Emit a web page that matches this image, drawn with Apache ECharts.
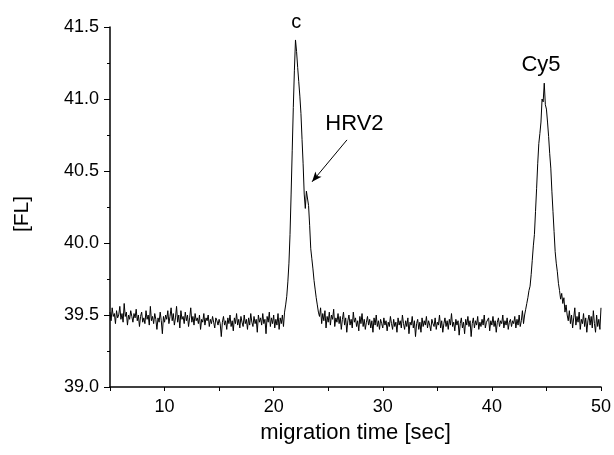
<!DOCTYPE html>
<html><head><meta charset="utf-8">
<script src="https://cdn.jsdelivr.net/npm/echarts@6/dist/echarts.min.js"></script>
<style>html,body{margin:0;padding:0;background:#fff}#c{width:614px;height:455px}</style>
</head><body><div id="c"></div>
<script>
// sampling of the detector trace
const startTime = 5.0;   // sec
const sampleStep = 0.1;  // sec
// fluorescence signal [FL], one value per sample from 5.0 s to 50.0 s
const baselineA = [
39.52,39.46,39.55,39.49,39.51,39.44,39.53,39.48,39.50,39.56,
39.47,39.51,39.45,39.58,39.49,39.52,39.43,39.50,39.47,39.53,
39.49,39.45,39.51,39.48,39.54,39.46,39.50,39.42,39.49,39.52,
39.45,39.48,39.44,39.53,39.47,39.50,39.43,39.56,39.46,39.49,
39.44,39.51,39.47,39.40,39.48,39.45,39.52,39.46,39.37,39.49,
39.45,39.50,39.47,39.53,39.44,39.49,39.55,39.46,39.51,39.43,
39.48,39.56,39.45,39.50,39.41,39.53,39.47,39.49,39.44,39.52,
39.46,39.50,39.42,39.48,39.55,39.45,39.49,39.43,39.51,39.46,
39.48,39.44,39.50,39.40,39.47,39.45,39.51,39.43,39.48,39.46,
39.50,39.42,39.47,39.44,39.49,39.45,39.41,39.48,39.46,39.43,
39.47,39.44,39.35,39.45,39.49,39.43,39.46,39.40,39.48,39.44,
39.50,39.42,39.46,39.39,39.48,39.44,39.51,39.43,39.47,39.41,
39.49,39.45,39.42,39.50,39.44,39.47,39.40,39.48,39.43,39.51,
39.45,39.42,39.49,39.44,39.47,39.38,39.50,39.45,39.48,39.43,
39.51,39.44,39.47,39.37,39.49,39.45,39.52,39.42,39.48,39.44,
39.50,39.41,39.47,39.43,39.51,39.40,39.48,39.44,39.50,39.42];
const peakC = [
39.52,39.57,39.63,39.73,39.86,40.06,40.34,40.64,40.94,41.20,
41.41,41.33,41.22,41.12,41.02,40.90,40.72,40.55,40.34,40.24,
40.36,40.37,40.26,40.12,39.96,39.89,39.82,39.74,39.68,39.62,
39.57,39.52,39.49];
const baselineB = [
39.55,39.44,39.51,39.46,39.53,39.41,39.49,
39.45,39.52,39.43,39.50,39.47,39.54,39.42,39.48,39.45,39.51,
39.44,39.49,39.40,39.47,39.52,39.43,39.48,39.38,39.46,39.50,
39.43,39.47,39.41,39.52,39.45,39.48,39.42,39.46,39.39,39.49,
39.44,39.51,39.42,39.47,39.40,39.45,39.49,39.43,39.47,39.41,
39.46,39.38,39.48,39.43,39.50,39.42,39.46,39.40,39.47,39.44,
39.41,39.48,39.43,39.46,39.39,39.45,39.42,39.49,39.44,39.40,
39.47,39.42,39.45,39.38,39.48,39.43,39.46,39.41,39.50,39.44,
39.40,39.46,39.42,39.48,39.37,39.45,39.43,39.49,39.41,39.46,
39.35,39.44,39.47,39.40,39.45,39.38,39.48,39.42,39.46,39.43,
39.49,39.41,39.46,39.43,39.39,39.47,39.44,39.42,39.48,39.40,
39.45,39.43,39.50,39.41,39.46,39.38,39.44,39.48,39.42,39.46,
39.40,39.47,39.43,39.51,39.42,39.45,39.39,39.47,39.43,39.46,
39.36,39.44,39.48,39.41,39.45,39.37,39.47,39.43,39.49,39.42,
39.46,39.35,39.44,39.48,39.41,39.46,39.43,39.49,39.40,39.45,
39.42,39.47,39.43,39.50,39.41,39.45,39.44,39.48,39.39,39.46,
39.43,39.49,39.42,39.46,39.38,39.45,39.48,39.42,39.46,39.44,
39.50,39.41,39.46,39.43,39.48,39.40,39.45,39.47,39.42,39.46,
39.44,39.49,39.41,39.47,39.43,39.50,39.42,39.46,39.53,39.44,
39.50];
const peakCy5 = [
39.54,39.58,39.62,39.67,39.70,39.78,39.88,39.98,40.06,
40.22,40.38,40.55,40.69,40.76,40.84,41.00,40.98,41.11,40.96,
40.93,40.84,40.74,40.62,40.52,40.36,40.22,40.08,39.94,39.86,
39.80,39.72,39.67,39.61,39.65,39.58,39.62,39.52,39.57,39.50];
const baselineC = [
39.46,39.53,39.44,39.50,39.41,39.48,39.55,39.43,39.49,39.45,
39.52,39.40,39.47,39.44,39.51,39.42,39.48,39.38,39.46,39.50,
39.43,39.49,39.41,39.53,39.44,39.38,39.50,39.42,39.47,39.40,
39.55];
const xTickLabels = [10, 20, 30, 40, 50];
const yTickLabels = [39.0, 39.5, 40.0, 40.5, 41.0, 41.5];
const peakNames = ['c', 'HRV2', 'Cy5'];
const xTitle = 'migration time [sec]';
const yTitle = '[FL]';

// annotation anchors (data coordinates)
const peakNameAt = [[22.06, 41.48], [27.4, 40.83], [44.5, 41.24]];
const arrowFrom = [26.72, 40.716];
const arrowTo = [23.52, 40.425];

const signal = baselineA.concat(peakC, baselineB, peakCy5, baselineC);
const trace = signal.map((v, i) => [+(startTime + i * sampleStep).toFixed(1), v]);

const FONT = 'Liberation Sans, Arial, sans-serif';
const chart = echarts.init(document.getElementById('c'), null, {renderer: 'canvas'});
chart.setOption({
  animation: false,
  backgroundColor: '#fff',
  grid: {left: 110, right: 11, top: 27, bottom: 68, containLabel: false},
  xAxis: {
    type: 'value', min: 5, max: 50, interval: 5,
    name: xTitle, nameLocation: 'middle', nameGap: 35,
    nameTextStyle: {fontFamily: FONT, fontSize: 22, color: '#000'},
    axisLine: {show: true, onZero: false, lineStyle: {color: '#000', width: 1.5}},
    axisTick: {show: true, inside: false, length: 4, lineStyle: {color: '#000', width: 1}},
    axisLabel: {customValues: xTickLabels, margin: 11, fontFamily: FONT, fontSize: 18, color: '#000',
                formatter: v => String(v)},
    splitLine: {show: false}
  },
  yAxis: {
    type: 'value', min: 39, max: 41.5, interval: 0.5,
    name: yTitle, nameLocation: 'middle', nameGap: 77, nameRotate: 90,
    nameTextStyle: {fontFamily: FONT, fontSize: 21, color: '#000', padding: [0, 14, 0, 0]},
    axisLine: {show: true, onZero: false, lineStyle: {color: '#000', width: 1.5}},
    axisTick: {show: true, inside: false, length: 6, lineStyle: {color: '#000', width: 1}},
    minorTick: {show: true, splitNumber: 2, length: 3, lineStyle: {color: '#000', width: 1}},
    axisLabel: {customValues: yTickLabels, margin: 11, fontFamily: FONT, fontSize: 18, color: '#000',
                formatter: v => v.toFixed(1)},
    splitLine: {show: false}
  },
  series: [{
    type: 'line', data: trace, showSymbol: false, symbol: 'none', clip: false,
    lineStyle: {color: '#000', width: 1}, silent: true,
    markPoint: {
      symbol: 'circle', symbolSize: 0, silent: true,
      label: {show: true, position: 'inside', color: '#000', fontFamily: FONT},
      data: peakNames.map((n, i) => ({
        coord: peakNameAt[i], value: n,
        label: {formatter: n, fontSize: n === 'c' ? 20 : 22, offset: n === 'c' ? [0, -7] : [0, 0]}
      }))
    },
    markLine: {
      silent: true, symbol: ['none', 'arrow'], symbolSize: 9,
      label: {show: false},
      lineStyle: {color: '#000', width: 1, type: 'solid'},
      data: [[{coord: arrowFrom, symbol: 'none'}, {coord: arrowTo, symbol: 'arrow', symbolSize: [6, 10]}]]
    }
  }]
});
</script></body></html>
